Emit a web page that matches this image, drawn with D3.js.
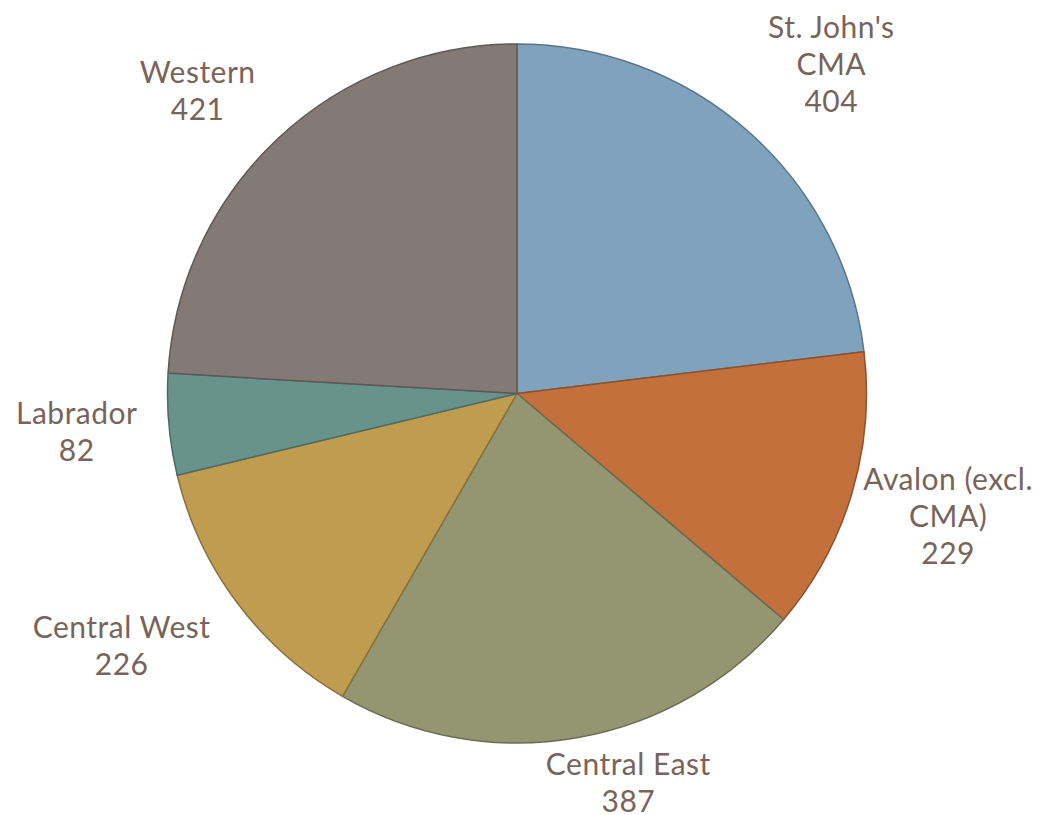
<!DOCTYPE html>
<html>
<head>
<meta charset="utf-8">
<script src="https://cdn.jsdelivr.net/npm/d3@7"></script>
<style>
  body { margin: 0; background: #fff; }
  .lbl { font-family: Lato, "Open Sans", sans-serif; font-size: 30px; letter-spacing: 0.5px; fill: #77645B; }
</style>
</head>
<body>
<svg width="1039" height="815"></svg>
<script>
// data
const regions = ["St. John's CMA", "Avalon (excl. CMA)", "Central East", "Central West", "Labrador", "Western"];
const counts = [404, 229, 387, 226, 82, 421];
// label lines (how Excel wrapped them)
const labelLines = [["St. John's", "CMA"], ["Avalon (excl.", "CMA)"], ["Central East"], ["Central West"], ["Labrador"], ["Western"]];
const colors = ["#7FA2BD", "#C4703C", "#939671", "#BF9C4F", "#67938A", "#837977"];

const svg = d3.select('svg');
const cx = 517, cy = 393.5, radius = 349.5;
const labelR = 445;
// small nudges so labels sit where Excel put them
const nudge = [[19, 3], [5, -6], [35, -49], [-39, -15], [3, -2], [-14, 21]];
const lineH = 37;

const data = regions.map((r, i) => ({ region: r, value: counts[i], lines: labelLines[i], i }));

const pie = d3.pie().value(d => d.value).sort(null);
const arc = d3.arc().innerRadius(0).outerRadius(radius);
const labelArc = d3.arc().innerRadius(labelR).outerRadius(labelR);

const g = svg.append('g').attr('transform', `translate(${cx},${cy})`);

const arcs = pie(data);

g.selectAll('path').data(arcs)
  .enter().append('path')
    .attr('d', arc)
    .attr('fill', d => colors[d.data.i])
    .attr('stroke', d => d3.color(colors[d.data.i]).darker(0.9))
    .attr('stroke-width', 1.5)
    .attr('stroke-linejoin', 'round');

g.selectAll('text.lbl').data(arcs)
  .enter().append('text')
    .attr('class', 'lbl')
    .attr('text-anchor', 'middle')
    .each(function(d) {
      const [x, y] = labelArc.centroid(d);
      const nx = x + nudge[d.data.i][0];
      const ny = y + nudge[d.data.i][1];
      const lines = d.data.lines.concat([String(d.data.value)]);
      const y0 = ny - (lines.length - 1) / 2 * lineH + 11;
      const t = d3.select(this);
      lines.forEach((s, k) => {
        t.append('tspan').attr('x', nx).attr('y', y0 + k * lineH).text(s);
      });
    });
</script>
</body>
</html>
